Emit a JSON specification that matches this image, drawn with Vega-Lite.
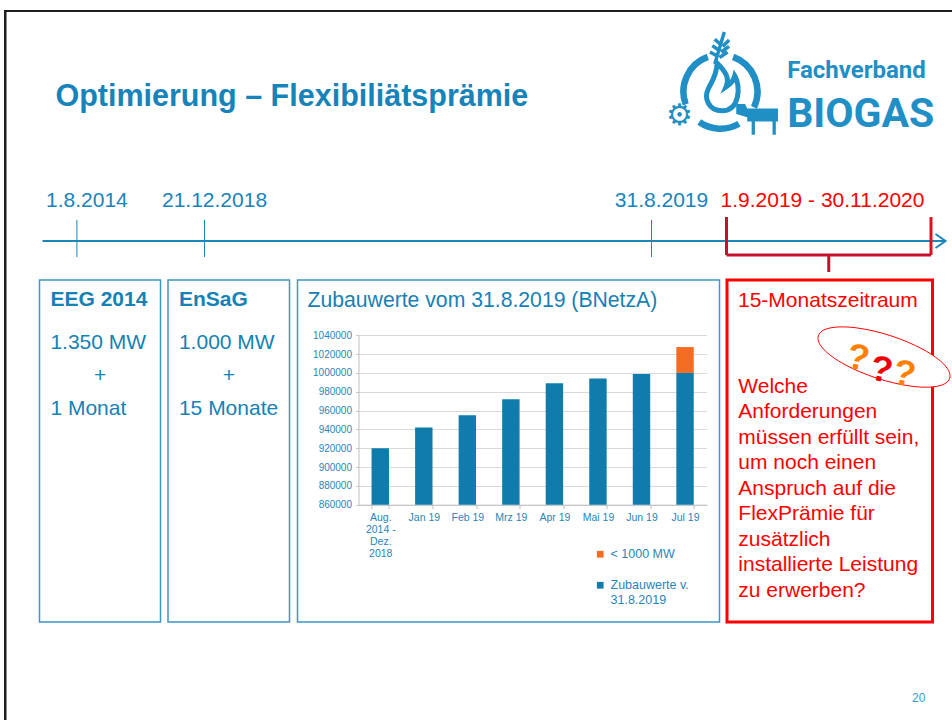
{
  "$schema": "https://vega.github.io/schema/vega-lite/v6.json",
  "background": "white",
  "padding": {"left": 4, "top": 10, "right": 0, "bottom": 0},
  "config": {
    "view": {"stroke": null},
    "font": "Liberation Sans",
    "axis": {"labelFont": "Liberation Sans"},
    "legend": {"labelFont": "Liberation Sans"},
    "title": {"font": "Liberation Sans"}
  },
  "datasets": {
    "kopf": [{"titel": "Optimierung – Flexibiliätsprämie", "verband": "Fachverband", "marke": "BIOGAS"}],
    "ereignisse": [
      {"tag": "2014-08-01", "text": "1.8.2014"},
      {"tag": "2018-12-21", "text": "21.12.2018"},
      {"tag": "2019-08-31", "text": "31.8.2019"}
    ],
    "zeitraum": [{"von": "2019-09-01", "bis": "2020-11-30", "text": "1.9.2019 - 30.11.2020"}],
    "box1": [
      {"zeile": 1, "text": "1.350 MW"},
      {"zeile": 2, "text": "+"},
      {"zeile": 3, "text": "1 Monat"}
    ],
    "box2": [
      {"zeile": 1, "text": "1.000 MW"},
      {"zeile": 2, "text": "+"},
      {"zeile": 3, "text": "15 Monate"}
    ],
    "zubau": [
      {"monat": "Aug. 2014 - Dez. 2018", "reihe": "Zubauwerte v. 31.8.2019", "kw": 920000},
      {"monat": "Jan 19", "reihe": "Zubauwerte v. 31.8.2019", "kw": 942000},
      {"monat": "Feb 19", "reihe": "Zubauwerte v. 31.8.2019", "kw": 955000},
      {"monat": "Mrz 19", "reihe": "Zubauwerte v. 31.8.2019", "kw": 972000},
      {"monat": "Apr 19", "reihe": "Zubauwerte v. 31.8.2019", "kw": 989000},
      {"monat": "Mai 19", "reihe": "Zubauwerte v. 31.8.2019", "kw": 994000},
      {"monat": "Jun 19", "reihe": "Zubauwerte v. 31.8.2019", "kw": 999000},
      {"monat": "Jul 19", "reihe": "Zubauwerte v. 31.8.2019", "kw": 1000000},
      {"monat": "Jul 19", "reihe": "< 1000 MW", "kw": 27500}
    ],
    "box4": [
      {"zeile": 1, "text": "Welche"},
      {"zeile": 2, "text": "Anforderungen"},
      {"zeile": 3, "text": "müssen erfüllt sein,"},
      {"zeile": 4, "text": "um noch einen"},
      {"zeile": 5, "text": "Anspruch auf die"},
      {"zeile": 6, "text": "FlexPrämie für"},
      {"zeile": 7, "text": "zusätzlich"},
      {"zeile": 8, "text": "installierte Leistung"},
      {"zeile": 9, "text": "zu erwerben?"}
    ],
    "fuss": [{"seite": "20"}]
  },
  "spacing": 0,
  "bounds": "flush",
  "vconcat": [
    {
      "width": 948, "height": 2,
      "view": {"fill": "#1e1e1e", "stroke": null},
      "data": {"values": []},
      "mark": "rect"
    },
    {
      "spacing": 0,
      "bounds": "flush",
      "hconcat": [
        {
          "width": 2.5, "height": 708,
          "view": {"fill": "#1e1e1e", "stroke": null},
          "data": {"values": []},
          "mark": "rect"
        },
        {
          "spacing": 0,
          "bounds": "full",
          "vconcat": [
            {
              "width": 940, "height": 166,
              "data": {"name": "kopf"},
              "layer": [
                {
                  "mark": {"type": "text", "align": "left", "baseline": "alphabetic", "fontSize": 30.5, "fontWeight": "bold", "color": "#1684ba"},
                  "encoding": {
                    "x": {"datum": 0.0515, "type": "quantitative", "scale": {"domain": [0, 1], "nice": false}, "axis": null},
                    "y": {"datum": 0.566, "type": "quantitative", "scale": {"domain": [0, 1], "reverse": true, "nice": false}, "axis": null},
                    "text": {"field": "titel"}
                  }
                },
                {
                  "mark": {"type": "text", "align": "left", "baseline": "alphabetic", "fontSize": 24, "fontWeight": "bold", "font": "Roboto", "color": "#1f8fc6"},
                  "encoding": {
                    "x": {"datum": 0.83, "type": "quantitative"},
                    "y": {"datum": 0.399, "type": "quantitative"},
                    "text": {"field": "verband"}
                  }
                },
                {
                  "mark": {"type": "text", "align": "left", "baseline": "alphabetic", "fontSize": 41, "fontWeight": "bold", "font": "Roboto", "color": "#1f8fc6"},
                  "encoding": {
                    "x": {"datum": 0.83, "type": "quantitative"},
                    "y": {"datum": 0.695, "type": "quantitative"},
                    "text": {"field": "marke"}
                  }
                },
                {
                  "mark": {"type": "point", "shape": "M 0.342 -0.94 A 1 1 0 0 1 0.906 0.423 M 0.5 0.866 A 1 1 0 0 1 -0.574 0.819 M -0.94 0.342 A 1 1 0 0 1 -0.342 -0.94", "size": 5476, "filled": false, "strokeWidth": 6.5, "color": "#1f8fc6", "opacity": 1},
                  "encoding": {
                    "x": {"datum": 0.759, "type": "quantitative"},
                    "y": {"datum": 0.48, "type": "quantitative"}
                  }
                },
                {
                  "mark": {"type": "point", "shape": "M 0 0.95 C -0.55 0.95 -0.75 0.45 -0.55 0.05 C -0.4 -0.25 -0.25 -0.4 -0.2 -0.95 C 0.15 -0.6 0.3 -0.35 0.15 0 C 0.3 -0.1 0.45 -0.25 0.5 -0.45 C 0.75 -0.05 0.7 0.95 0 0.95 Z", "size": 2500, "filled": false, "strokeWidth": 5, "color": "#1f8fc6", "opacity": 1},
                  "encoding": {
                    "x": {"datum": 0.7609, "type": "quantitative"},
                    "y": {"datum": 0.452, "type": "quantitative"}
                  }
                },
                {
                  "mark": {"type": "point", "shape": "M -0.3 1 L 0.3 -1 M -0.05 0.55 L -0.6 0.25 M 0.05 0.2 L -0.45 -0.15 M 0.15 -0.15 L -0.3 -0.55 M 0 0.6 L 0.5 0.25 M 0.1 0.25 L 0.6 -0.1 M 0.2 -0.1 L 0.6 -0.5", "size": 1024, "filled": false, "strokeWidth": 3.5, "color": "#1f8fc6", "opacity": 1},
                  "encoding": {
                    "x": {"datum": 0.758, "type": "quantitative"},
                    "y": {"datum": 0.217, "type": "quantitative"}
                  }
                },
                {
                  "mark": {"type": "text", "align": "center", "baseline": "middle", "fontSize": 30, "font": "DejaVu Sans", "color": "#1f8fc6"},
                  "encoding": {
                    "x": {"datum": 0.7154, "type": "quantitative"},
                    "y": {"datum": 0.625, "type": "quantitative"},
                    "text": {"value": "⚙"}
                  }
                },
                {
                  "mark": {"type": "point", "shape": "M -0.95 -0.55 L -0.55 -0.55 L -0.45 -0.35 L 0.95 -0.35 L 0.95 0.25 L 0.85 0.25 L 0.85 0.85 L 0.7 0.85 L 0.7 0.25 L -0.1 0.25 L -0.1 0.85 L -0.25 0.85 L -0.25 0.25 L -0.45 0.25 L -0.45 0.05 L -0.95 -0.1 Z", "size": 1936, "filled": true, "color": "#1f8fc6", "opacity": 1},
                  "encoding": {
                    "x": {"datum": 0.798, "type": "quantitative"},
                    "y": {"datum": 0.627, "type": "quantitative"}
                  }
                }
              ]
            },
            {
              "width": 940, "height": 100,
              "resolve": {"scale": {"x": "independent"}},
              "layer": [
                {
                  "data": {"values": [{"element": "Zeitstrahl"}]},
                  "layer": [
                    {
                      "mark": {"type": "rule", "color": "#1a86b8", "strokeWidth": 2},
                      "encoding": {
                        "x": {"datum": 0.0378, "type": "quantitative", "scale": {"domain": [0, 1], "nice": false}, "axis": null},
                        "x2": {"datum": 0.9984},
                        "y": {"datum": 0.63, "type": "quantitative", "scale": {"domain": [0, 1], "reverse": true, "nice": false}, "axis": null}
                      }
                    },
                    {
                      "mark": {"type": "point", "shape": "M -1 -0.7 L 0 0 L -1 0.7", "size": 400, "filled": false, "strokeWidth": 2, "color": "#1a86b8", "opacity": 1},
                      "encoding": {
                        "x": {"datum": 0.9984, "type": "quantitative"},
                        "y": {"datum": 0.63, "type": "quantitative"}
                      }
                    }
                  ]
                },
                {
                  "layer": [
                    {
                      "data": {"name": "ereignisse"},
                      "transform": [{"calculate": "time(datum.tag)", "as": "zeit"}],
                      "mark": {"type": "rule", "color": "#1a86b8", "strokeWidth": 1},
                      "encoding": {
                        "x": {"field": "zeit", "type": "quantitative", "axis": null, "scale": {"type": "linear", "nice": false, "zero": false, "domain": [1406851200000, 1545350400000, 1567209600000, 1567296000000, 1606694400000], "range": [69.9, 197.5, 644.5, 719.5, 924]}},
                        "y": {"datum": 0.42, "type": "quantitative"},
                        "y2": {"datum": 0.79}
                      }
                    },
                    {
                      "data": {"name": "ereignisse"},
                      "transform": [{"calculate": "time(datum.tag)", "as": "zeit"}],
                      "mark": {"type": "text", "align": "center", "baseline": "alphabetic", "fontSize": 21, "color": "#1684ba", "dx": 10},
                      "encoding": {
                        "x": {"field": "zeit", "type": "quantitative", "axis": null, "scale": {"type": "linear", "nice": false, "zero": false, "domain": [1406851200000, 1545350400000, 1567209600000, 1567296000000, 1606694400000], "range": [69.9, 197.5, 644.5, 719.5, 924]}},
                        "y": {"datum": 0.285, "type": "quantitative"},
                        "text": {"field": "text"}
                      }
                    },
                    {
                      "data": {"name": "zeitraum"},
                      "transform": [{"calculate": "time(datum.von)", "as": "zeit_von"}, {"calculate": "time(datum.bis)", "as": "zeit_bis"}, {"calculate": "(datum.zeit_von + datum.zeit_bis) / 2", "as": "zeit_mitte"}],
                      "layer": [
                        {
                          "mark": {"type": "text", "align": "left", "baseline": "alphabetic", "fontSize": 21, "color": "#ff0000", "dx": -6},
                          "encoding": {
                            "x": {"field": "zeit_von", "type": "quantitative", "axis": null, "scale": {"type": "linear", "nice": false, "zero": false, "domain": [1406851200000, 1545350400000, 1567209600000, 1567296000000, 1606694400000], "range": [69.9, 197.5, 644.5, 719.5, 924]}},
                            "y": {"datum": 0.285, "type": "quantitative"},
                            "text": {"field": "text"}
                          }
                        },
                        {
                          "mark": {"type": "rule", "color": "#c8102e", "strokeWidth": 3},
                          "encoding": {
                            "x": {"field": "zeit_von", "type": "quantitative", "axis": null, "scale": {"type": "linear", "nice": false, "zero": false, "domain": [1406851200000, 1545350400000, 1567209600000, 1567296000000, 1606694400000], "range": [69.9, 197.5, 644.5, 719.5, 924]}},
                            "y": {"datum": 0.39, "type": "quantitative"},
                            "y2": {"datum": 0.77}
                          }
                        },
                        {
                          "mark": {"type": "rule", "color": "#e0101e", "strokeWidth": 3},
                          "encoding": {
                            "x": {"field": "zeit_bis", "type": "quantitative", "axis": null, "scale": {"type": "linear", "nice": false, "zero": false, "domain": [1406851200000, 1545350400000, 1567209600000, 1567296000000, 1606694400000], "range": [69.9, 197.5, 644.5, 719.5, 924]}},
                            "y": {"datum": 0.39, "type": "quantitative"},
                            "y2": {"datum": 0.77}
                          }
                        },
                        {
                          "mark": {"type": "rule", "color": "#c8102e", "strokeWidth": 3},
                          "encoding": {
                            "x": {"field": "zeit_von", "type": "quantitative", "axis": null, "scale": {"type": "linear", "nice": false, "zero": false, "domain": [1406851200000, 1545350400000, 1567209600000, 1567296000000, 1606694400000], "range": [69.9, 197.5, 644.5, 719.5, 924]}},
                            "x2": {"field": "zeit_bis"},
                            "y": {"datum": 0.77, "type": "quantitative"}
                          }
                        },
                        {
                          "mark": {"type": "rule", "color": "#c8102e", "strokeWidth": 3},
                          "encoding": {
                            "x": {"field": "zeit_mitte", "type": "quantitative", "axis": null, "scale": {"type": "linear", "nice": false, "zero": false, "domain": [1406851200000, 1545350400000, 1567209600000, 1567296000000, 1606694400000], "range": [69.9, 197.5, 644.5, 719.5, 924]}},
                            "y": {"datum": 0.77, "type": "quantitative"},
                            "y2": {"datum": 0.94}
                          }
                        }
                      ]
                    }
                  ]
                }
              ]
            },
            {
              "spacing": 7.5,
              "bounds": "flush",
              "hconcat": [
                {
                  "width": 24.3, "height": 342,
                  "data": {"values": []},
                  "mark": "point"
                },
                {
                  "width": 121, "height": 342,
                  "view": {"stroke": "#3a97c8", "strokeWidth": 1.5},
                  "title": {"text": "EEG 2014", "anchor": "start", "frame": "group", "offset": -47, "dx": 11, "fontSize": 21, "fontWeight": "bold", "color": "#1581b5", "baseline": "alphabetic"},
                  "data": {"name": "box1"},
                  "layer": [
                    {
                      "transform": [{"filter": "datum.text !== '+'"}],
                      "mark": {"type": "text", "align": "left", "baseline": "alphabetic", "fontSize": 21, "color": "#1581b5"},
                      "encoding": {
                        "x": {"datum": 0.09, "type": "quantitative", "scale": {"domain": [0, 1], "nice": false}, "axis": null},
                        "y": {"field": "zeile", "type": "quantitative", "scale": {"domain": [-1.063, 9.207], "reverse": true, "nice": false, "zero": false}, "axis": null},
                        "text": {"field": "text"}
                      }
                    },
                    {
                      "transform": [{"filter": "datum.text === '+'"}],
                      "mark": {"type": "text", "align": "center", "baseline": "alphabetic", "fontSize": 21, "color": "#1581b5"},
                      "encoding": {
                        "y": {"field": "zeile", "type": "quantitative"},
                        "text": {"field": "text"}
                      }
                    }
                  ]
                },
                {
                  "width": 121.5, "height": 342,
                  "view": {"stroke": "#3a97c8", "strokeWidth": 1.5},
                  "title": {"text": "EnSaG", "anchor": "start", "frame": "group", "offset": -47, "dx": 11, "fontSize": 21, "fontWeight": "bold", "color": "#1581b5", "baseline": "alphabetic"},
                  "data": {"name": "box2"},
                  "layer": [
                    {
                      "transform": [{"filter": "datum.text !== '+'"}],
                      "mark": {"type": "text", "align": "left", "baseline": "alphabetic", "fontSize": 21, "color": "#1581b5"},
                      "encoding": {
                        "x": {"datum": 0.09, "type": "quantitative", "scale": {"domain": [0, 1], "nice": false}, "axis": null},
                        "y": {"field": "zeile", "type": "quantitative", "scale": {"domain": [-1.063, 9.207], "reverse": true, "nice": false, "zero": false}, "axis": null},
                        "text": {"field": "text"}
                      }
                    },
                    {
                      "transform": [{"filter": "datum.text === '+'"}],
                      "mark": {"type": "text", "align": "center", "baseline": "alphabetic", "fontSize": 21, "color": "#1581b5"},
                      "encoding": {
                        "y": {"field": "zeile", "type": "quantitative"},
                        "text": {"field": "text"}
                      }
                    }
                  ]
                },
                {
                  "width": 422, "height": 342,
                  "view": {"stroke": "#3a97c8", "strokeWidth": 1.5},
                  "title": {"text": "Zubauwerte vom 31.8.2019 (BNetzA)", "anchor": "start", "frame": "group", "offset": -48, "dx": 10, "fontSize": 21.2, "fontWeight": "normal", "color": "#1581b5", "baseline": "alphabetic"},
                  "data": {"name": "zubau"},
                  "mark": {"type": "bar"},
                  "encoding": {
                    "x": {
                      "field": "monat", "type": "nominal", "sort": null,
                      "scale": {"range": [61, 409.3], "paddingInner": 0.6, "paddingOuter": 0.3},
                      "axis": {
                        "orient": "bottom", "offset": -117.3, "title": null, "labelAngle": 0,
                        "labelColor": "#2a84b8", "labelFontSize": 10.5, "labelLineHeight": 12, "labelBaseline": "top", "labelPadding": 4,
                        "tickBand": "extent", "tickSize": 4, "tickColor": "#bdbdbd", "domainColor": "#bdbdbd",
                        "labelExpr": "datum.value == 'Aug. 2014 - Dez. 2018' ? ['Aug.', '2014 -', 'Dez.', '2018'] : datum.label"
                      }
                    },
                    "y": {
                      "field": "kw", "type": "quantitative", "stack": "zero",
                      "scale": {"domain": [860000, 1040000], "range": [224.7, 55.3], "clamp": true, "zero": false, "nice": false},
                      "axis": {
                        "orient": "left", "offset": -61, "title": null, "format": "d",
                        "values": [860000, 880000, 900000, 920000, 940000, 960000, 980000, 1000000, 1020000, 1040000],
                        "labelColor": "#2a84b8", "labelFontSize": 10, "labelPadding": 4, "labelFlush": false,
                        "tickSize": 3, "tickColor": "#c8c8c8", "domainColor": "#c0c0c0",
                        "grid": true, "gridColor": "#d9d9d9"
                      }
                    },
                    "order": {"field": "reihe", "sort": "descending"},
                    "color": {
                      "field": "reihe", "type": "nominal",
                      "scale": {"domain": ["< 1000 MW", "Zubauwerte v. 31.8.2019"], "range": ["#f36c21", "#0f7cac"]},
                      "legend": {
                        "orient": "none", "legendX": 590, "legendY": 538, "title": null, "padding": 0,
                        "symbolType": "square", "symbolSize": 45, "symbolStrokeWidth": 0,
                        "labelFontSize": 12.5, "labelColor": "#2a84b8", "labelOffset": 4, "rowPadding": 18, "labelLimit": 200,
                        "labelExpr": "datum.label == 'Zubauwerte v. 31.8.2019' ? ['Zubauwerte v.', '31.8.2019'] : datum.label"
                      }
                    }
                  }
                },
                {
                  "width": 205.5, "height": 342,
                  "view": {"stroke": "#ff0000", "strokeWidth": 3},
                  "title": {"text": "15-Monatszeitraum", "anchor": "start", "frame": "group", "offset": -48, "dx": 11, "fontSize": 21, "fontWeight": "normal", "color": "#ff0000", "baseline": "alphabetic"},
                  "data": {"name": "box4"},
                  "layer": [
                    {
                      "mark": {"type": "text", "align": "left", "baseline": "alphabetic", "fontSize": 21, "color": "#ff0000"},
                      "encoding": {
                        "x": {"datum": 0.055, "type": "quantitative", "scale": {"domain": [0, 1], "nice": false}, "axis": null},
                        "y": {"field": "zeile", "type": "quantitative", "scale": {"domain": [-3.431, 9.981], "reverse": true, "nice": false, "zero": false}, "axis": null},
                        "text": {"field": "text"}
                      }
                    },
                    {
                      "data": {"values": [{"deko": "Ellipse"}]},
                      "mark": {"type": "point", "shape": "M -0.951 -0.309 A 1 0.32 18 1 0 0.951 0.309 A 1 0.32 18 1 0 -0.951 -0.309 Z", "size": 19044, "filled": true, "fill": "white", "stroke": "#ff0000", "strokeWidth": 1, "opacity": 1},
                      "encoding": {
                        "x": {"datum": 0.764, "type": "quantitative"},
                        "y": {"datum": -0.41, "type": "quantitative"}
                      }
                    },
                    {
                      "data": {"values": [{"deko": "Fragezeichen"}]},
                      "mark": {"type": "text", "align": "center", "baseline": "middle", "fontSize": 36, "fontWeight": "bold", "color": "#ff8000", "angle": 12},
                      "encoding": {
                        "x": {"datum": 0.6376, "type": "quantitative"},
                        "y": {"datum": -0.364, "type": "quantitative"},
                        "text": {"value": "?"}
                      }
                    },
                    {
                      "data": {"values": [{"deko": "Fragezeichen"}]},
                      "mark": {"type": "text", "align": "center", "baseline": "middle", "fontSize": 36, "fontWeight": "bold", "color": "#ee0000", "angle": 12},
                      "encoding": {
                        "x": {"datum": 0.751, "type": "quantitative"},
                        "y": {"datum": 0.106, "type": "quantitative"},
                        "text": {"value": "?"}
                      }
                    },
                    {
                      "data": {"values": [{"deko": "Fragezeichen"}]},
                      "mark": {"type": "text", "align": "center", "baseline": "middle", "fontSize": 36, "fontWeight": "bold", "color": "#ff8000", "angle": 12},
                      "encoding": {
                        "x": {"datum": 0.863, "type": "quantitative"},
                        "y": {"datum": 0.263, "type": "quantitative"},
                        "text": {"value": "?"}
                      }
                    }
                  ]
                }
              ]
            },
            {
              "width": 940, "height": 100,
              "data": {"name": "fuss"},
              "mark": {"type": "text", "align": "right", "baseline": "alphabetic", "fontSize": 12, "color": "#3a9ad0"},
              "encoding": {
                "x": {"datum": 0.977, "type": "quantitative", "scale": {"domain": [0, 1], "nice": false}, "axis": null},
                "y": {"datum": 0.78, "type": "quantitative", "scale": {"domain": [0, 1], "reverse": true, "nice": false}, "axis": null},
                "text": {"field": "seite"}
              }
            }
          ]
        }
      ]
    }
  ]
}
